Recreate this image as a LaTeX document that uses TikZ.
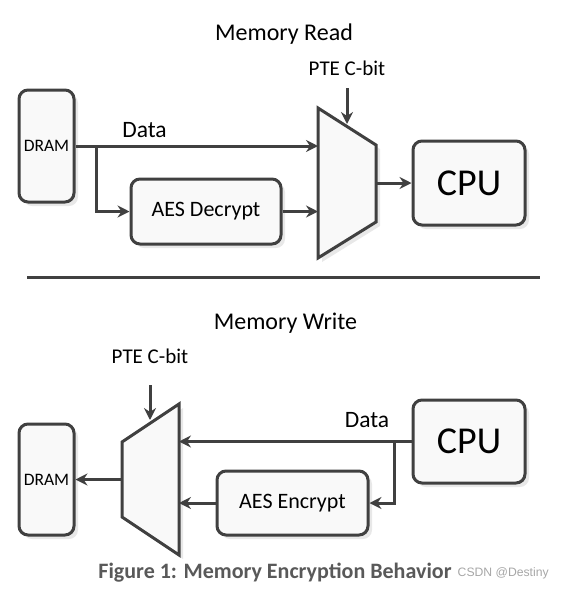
\documentclass[tikz,border=0pt]{standalone}
\usepackage{fontspec}
\setmainfont{Carlito}
\newfontfamily\markfont{Liberation Sans}
\usetikzlibrary{arrows.meta,shadows}

\definecolor{linegray}{HTML}{404040}
\definecolor{boxfill}{HTML}{F9F9F9}
\definecolor{shadowgray}{HTML}{E8E8E8}
\definecolor{capgray}{HTML}{595959}
\definecolor{markgray}{HTML}{A6A6A6}

\tikzset{
  blockbox/.style={draw=linegray, line width=3pt, fill=boxfill, rounded corners=9pt,
    inner sep=0pt, drop shadow={shadow xshift=4pt, shadow yshift=-4pt, fill=shadowgray, opacity=1}},
  muxshape/.style={draw=linegray, line width=3pt, fill=boxfill, line join=miter,
    drop shadow={shadow xshift=4pt, shadow yshift=-4pt, fill=shadowgray, opacity=1}},
  flow/.style={draw=linegray, line width=3pt, -{Stealth[length=12pt,width=12pt,inset=4pt]}},
  wire/.style={draw=linegray, line width=3pt},
  title/.style={font=\fontsize{24}{28}\selectfont, anchor=base, inner sep=0pt},
  label/.style={font=\fontsize{21}{25}\selectfont, anchor=base, inner sep=0pt},
}

\begin{document}
\begin{tikzpicture}[x=1pt,y=-1pt]
  \useasboundingbox (0,0) rectangle (561,590);

  %--- Memory Read ---
  \node[title] (readTitle) at (284,40) {Memory Read};

  \node[blockbox, minimum width=55pt, minimum height=112pt,
        font=\fontsize{17.5}{20}\selectfont] (dramR) at (46.5,146) {DRAM};
  \node[blockbox, minimum width=150pt, minimum height=65pt,
        font=\fontsize{22}{26}\selectfont] (aesD) at (206,211.5) {AES Decrypt};
  \node[blockbox, minimum width=112pt, minimum height=84pt,
        font=\fontsize{38}{44}\selectfont] (cpuR) at (469,183) {CPU};

  % mux (read)
  \draw[muxshape] (318,108) -- (376,145) -- (376,222) -- (318,258) -- cycle;
  \coordinate (muxRa)   at (318,146);
  \coordinate (muxRb)   at (318,211.5);
  \coordinate (muxRout) at (376,183);
  \coordinate (muxRsel) at (347,124);
  \coordinate (splitR)  at (96,146);

  \node[label] (pteR) at (347,75) {PTE C-bit};
  \node[font=\fontsize{23.5}{28}\selectfont, anchor=base, inner sep=0pt] (dataR) at (144.5,137) {Data};

  \draw[flow] (dramR.east) -- (muxRa);
  \draw[flow] (splitR) |- (aesD.west);
  \draw[flow] (aesD.east) -- (muxRb);
  \draw[flow] (muxRout) -- (cpuR.west);
  \draw[flow] ([yshift=-13pt]pteR.base) -- (muxRsel);

  %--- separator ---
  \coordinate (sepL) at (27,277);
  \coordinate (sepR) at (540,277);
  \draw[wire] (sepL) -- (sepR);

  %--- Memory Write ---
  \node[title] (writeTitle) at (285.5,329) {Memory Write};

  \node[blockbox, minimum width=55pt, minimum height=111pt,
        font=\fontsize{17.5}{20}\selectfont] (dramW) at (46.5,479.5) {DRAM};
  \node[blockbox, minimum width=151pt, minimum height=64pt,
        font=\fontsize{22}{26}\selectfont] (aesE) at (292.5,503) {AES Encrypt};
  \node[blockbox, minimum width=112pt, minimum height=83pt,
        font=\fontsize{38}{44}\selectfont] (cpuW) at (469,441.5) {CPU};

  % mux (write)
  \draw[muxshape] (179,404) -- (179,555) -- (122,517) -- (122,442) -- cycle;
  \coordinate (muxWa)   at (179,441.5);
  \coordinate (muxWb)   at (179,503);
  \coordinate (muxWout) at (122,479.5);
  \coordinate (muxWsel) at (150,420);
  \coordinate (splitW)  at (394,441.5);

  \node[label] (pteW) at (150,363) {PTE C-bit};
  \node[font=\fontsize{23.5}{28}\selectfont, anchor=base, inner sep=0pt] (dataW) at (367,427) {Data};

  \draw[flow] (cpuW.west) -- (muxWa);
  \draw[flow] (splitW) |- (aesE.east);
  \draw[flow] (aesE.west) -- (muxWb);
  \draw[flow] (muxWout) -- (dramW.east);
  \draw[flow] ([yshift=-22pt]pteW.base) -- (muxWsel);

  %--- caption ---
  \node[font=\fontsize{22}{26}\selectfont\bfseries, text=capgray, inner sep=0pt] (caption) at (275,573)
    {Figure 1: Memory Encryption Behavior};
  \node[font=\markfont\fontsize{12.2}{14}\selectfont, text=markgray, anchor=west, inner sep=0pt] (mark)
    at (457.5,573) {CSDN @Destiny};

\end{tikzpicture}
\end{document}
